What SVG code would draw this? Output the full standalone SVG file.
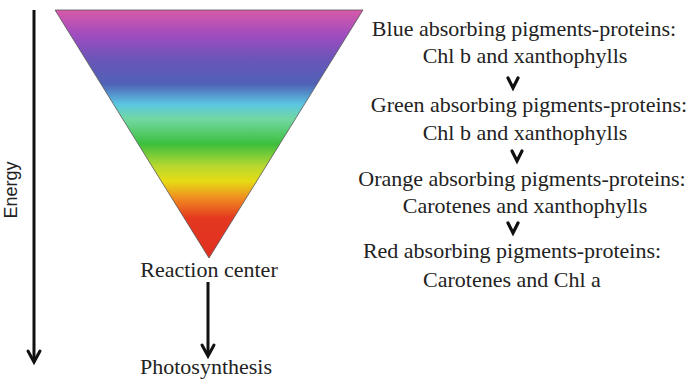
<svg xmlns="http://www.w3.org/2000/svg" width="689" height="380" viewBox="0 0 689 380">
<style>
text{font-family:"Liberation Serif","Times New Roman",serif;font-size:22px;fill:#222;text-anchor:middle}
.ln{stroke:#111;stroke-width:3;fill:none}
.head{stroke:#111;stroke-width:3;fill:none;stroke-linecap:round;stroke-linejoin:miter}
.chev{stroke:#111;stroke-width:3.2;fill:none;stroke-linecap:round;stroke-linejoin:miter}
</style>
<defs>
<linearGradient id="spec" x1="0" y1="10" x2="0" y2="258" gradientUnits="userSpaceOnUse">
<stop offset="0" stop-color="#d85aa8"/>
<stop offset="0.1" stop-color="#a04cc0"/>
<stop offset="0.2" stop-color="#6a55b8"/>
<stop offset="0.3" stop-color="#4f62b6"/>
<stop offset="0.38" stop-color="#5bc6e2"/>
<stop offset="0.44" stop-color="#72d8a2"/>
<stop offset="0.54" stop-color="#3cbf3e"/>
<stop offset="0.63" stop-color="#b8d830"/>
<stop offset="0.69" stop-color="#e6dc14"/>
<stop offset="0.76" stop-color="#f08a20"/>
<stop offset="0.84" stop-color="#e43820"/>
<stop offset="1" stop-color="#e03020"/>
</linearGradient>
</defs>
<g id="pyramid">
<polygon points="55,10 363,10 209,258" fill="url(#spec)" stroke="#555" stroke-width="0.8"/>
</g>
<g id="energy">
<text x="17" y="190" transform="rotate(-90 17 190)" style="font-family:'Liberation Sans',Arial,sans-serif;font-size:18px">Energy</text>
</g>
<g id="reaction-center"><text x="209" y="277">Reaction center</text></g>
<g id="photosynthesis"><text x="206" y="374">Photosynthesis</text></g>
<g id="blue"><text x="524" y="36">Blue absorbing pigments-proteins:</text><text x="525" y="63">Chl b and xanthophylls</text></g>
<g id="green"><text x="529" y="112">Green absorbing pigments-proteins:</text><text x="525" y="140">Chl b and xanthophylls</text></g>
<g id="orange"><text x="522" y="186">Orange absorbing pigments-proteins:</text><text x="525" y="213">Carotenes and xanthophylls</text></g>
<g id="red"><text x="512" y="258">Red absorbing pigments-proteins:</text><text x="512" y="287">Carotenes and Chl a</text></g>
<g id="connectors">
<line class="ln" x1="34" y1="10" x2="34" y2="361"/>
<path class="head" d="M28,351 L34,362 L40,351"/>
<line class="ln" x1="208" y1="282" x2="208" y2="355"/>
<path class="head" d="M202,345 L208,356 L214,345"/>
<path class="chev" d="M508,78 L513,88 L518,78"/>
<path class="chev" d="M512,151 L517,161 L522,151"/>
<path class="chev" d="M508,223 L513,233 L518,223"/>
</g>
</svg>
